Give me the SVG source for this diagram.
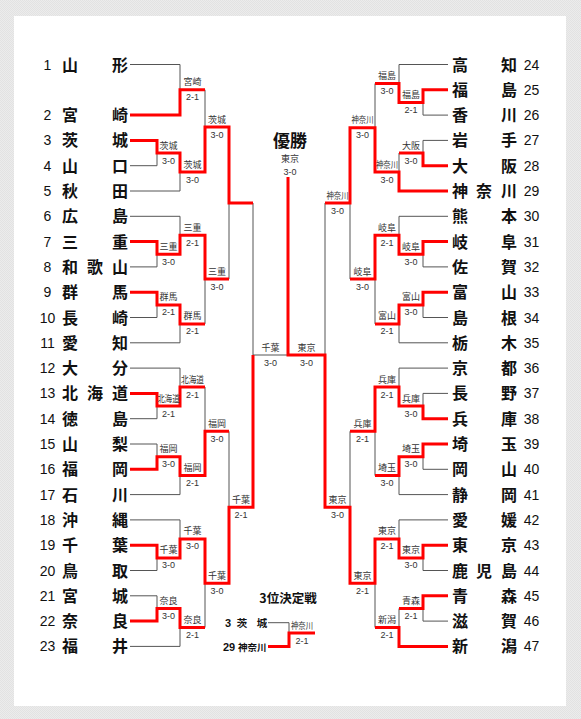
<svg xmlns="http://www.w3.org/2000/svg" width="581" height="719" viewBox="0 0 581 719">
<defs>
<pattern id="bg" width="2" height="2" patternUnits="userSpaceOnUse">
<rect width="2" height="2" fill="#ececec"/><rect width="1" height="1" fill="#e2e2e2"/><rect x="1" y="1" width="1" height="1" fill="#e2e2e2"/>
</pattern>
<style>
.nm{font-family:"Noto Sans CJK JP","Noto Sans CJK SC",sans-serif;font-weight:bold;font-size:16px;text-anchor:middle;fill:#111}
.no{font-family:"Liberation Sans",Arial,sans-serif;font-size:14px;text-anchor:middle;fill:#111}
.lb{font-family:"Noto Sans CJK JP","Noto Sans CJK SC",sans-serif;font-size:9px;text-anchor:middle;fill:#333}
.sc{font-family:"Liberation Sans",Arial,sans-serif;font-size:9px;text-anchor:middle;fill:#333}
.g{stroke:#555;stroke-width:1;fill:none}
.r{stroke:#ff0000;stroke-width:3;fill:none;stroke-linejoin:miter}
.tt{font-family:"Noto Sans CJK JP","Noto Sans CJK SC",sans-serif;font-weight:bold;fill:#111}
</style>
</defs>
<rect width="581" height="719" fill="url(#bg)"/>
<rect x="14" y="16" width="552" height="690" fill="#fff"/>

<g id="connectors">
<g id="gray-lines">
<path class="g" d="M130,64.5H180V89.8M205,89.8V127M130,165.7H157V153M130,191H180V172M229,279V203M253,203V355H288M130,216.3H180V235.3M130,266.9H157V254.3M130,317.5H157V304.9M130,342.8H180V323.9M205,323.9V279M130,368.1H180V387M130,418.7H157V406M205,387V431.3M130,444H157V456.7M130,494.6H180V475.6M229,431.3V507.3M130,519.9H180V538.9M130,570.5H157V557.9M130,595.8H157V608.5M130,646.4H180V627.5M205,627.5V583.2"/>
<path class="g" d="M448,64.5H399V83.5M448,115.1H423V102.5M448,140.4H423V153M399,153V172M375,83.5V127.8M350,279V203M325,203V355M448,216.3H399V235.3M448,266.9H423V254.3M448,317.5H423V304.9M448,342.8H399V323.9M375,323.9V279M448,368.1H399V387M448,393.4H423V406M448,469.3H423V456.7M448,494.6H399V475.6M375,475.6V431.3M350,431.3V507.3M448,519.9H399V538.9M448,570.5H423V557.9M448,621.1H423V608.5M399,608.5V627.5M375,627.5V583.2"/>
<path class="g" d="M268,622.7H289V633"/>
</g>
<g id="red-lines">
<path class="r" d="M130,115.1H180V89.8H205"/>
<path class="r" d="M130,140.4H157V153H180V172H205V127H229V203H253"/>
<path class="r" d="M130,241.6H157V254.3H180V235.3H205V279H229"/>
<path class="r" d="M130,292.2H157V304.9H180V323.9H205"/>
<path class="r" d="M130,393.4H157V406H180V387H205"/>
<path class="r" d="M130,469.3H157V456.7H180V475.6H205V431.3H229"/>
<path class="r" d="M130,545.2H157V557.9H180V538.9H205V583.2H229V507.3H253V355"/>
<path class="r" d="M130,621.1H157V608.5H180V627.5H205"/>
<path class="r" d="M448,89.8H423V102.5H399V83.5H375"/>
<path class="r" d="M448,165.7H423V153H399"/>
<path class="r" d="M448,191H399V172H375V127.8H350V203H325"/>
<path class="r" d="M448,241.6H423V254.3H399V235.3H375V279H350"/>
<path class="r" d="M448,292.2H423V304.9H399V323.9H375"/>
<path class="r" d="M448,418.7H423V406H399V387H375V431.3H350"/>
<path class="r" d="M448,444H423V456.7H399V475.6H375"/>
<path class="r" d="M448,545.2H423V557.9H399V538.9H375V583.2H350V507.3H325V355H288V177"/>
<path class="r" d="M448,595.8H423V608.5H399"/>
<path class="r" d="M448,646.4H399V627.5H375"/>
<path class="r" d="M268,646.5H289V633H315"/>
</g>
</g>

<g id="teams-left">
<g id="t1"><text class="no" x="47.5" y="69.5">1</text><text class="nm" x="70 120" y="70.5">山形</text></g>
<g id="t2"><text class="no" x="47.5" y="120.1">2</text><text class="nm" x="70 120" y="121.1">宮崎</text></g>
<g id="t3"><text class="no" x="47.5" y="145.4">3</text><text class="nm" x="70 120" y="146.4">茨城</text></g>
<g id="t4"><text class="no" x="47.5" y="170.7">4</text><text class="nm" x="70 120" y="171.7">山口</text></g>
<g id="t5"><text class="no" x="47.5" y="196">5</text><text class="nm" x="70 120" y="197">秋田</text></g>
<g id="t6"><text class="no" x="47.5" y="221.3">6</text><text class="nm" x="70 120" y="222.3">広島</text></g>
<g id="t7"><text class="no" x="47.5" y="246.6">7</text><text class="nm" x="70 120" y="247.6">三重</text></g>
<g id="t8"><text class="no" x="47.5" y="271.9">8</text><text class="nm" x="70 95 120" y="272.9">和歌山</text></g>
<g id="t9"><text class="no" x="47.5" y="297.2">9</text><text class="nm" x="70 120" y="298.2">群馬</text></g>
<g id="t10"><text class="no" x="47.5" y="322.5">10</text><text class="nm" x="70 120" y="323.5">長崎</text></g>
<g id="t11"><text class="no" x="47.5" y="347.8">11</text><text class="nm" x="70 120" y="348.8">愛知</text></g>
<g id="t12"><text class="no" x="47.5" y="373.1">12</text><text class="nm" x="70 120" y="374.1">大分</text></g>
<g id="t13"><text class="no" x="47.5" y="398.4">13</text><text class="nm" x="70 95 120" y="399.4">北海道</text></g>
<g id="t14"><text class="no" x="47.5" y="423.7">14</text><text class="nm" x="70 120" y="424.7">徳島</text></g>
<g id="t15"><text class="no" x="47.5" y="449">15</text><text class="nm" x="70 120" y="450">山梨</text></g>
<g id="t16"><text class="no" x="47.5" y="474.3">16</text><text class="nm" x="70 120" y="475.3">福岡</text></g>
<g id="t17"><text class="no" x="47.5" y="499.6">17</text><text class="nm" x="70 120" y="500.6">石川</text></g>
<g id="t18"><text class="no" x="47.5" y="524.9">18</text><text class="nm" x="70 120" y="525.9">沖縄</text></g>
<g id="t19"><text class="no" x="47.5" y="550.2">19</text><text class="nm" x="70 120" y="551.2">千葉</text></g>
<g id="t20"><text class="no" x="47.5" y="575.5">20</text><text class="nm" x="70 120" y="576.5">鳥取</text></g>
<g id="t21"><text class="no" x="47.5" y="600.8">21</text><text class="nm" x="70 120" y="601.8">宮城</text></g>
<g id="t22"><text class="no" x="47.5" y="626.1">22</text><text class="nm" x="70 120" y="627.1">奈良</text></g>
<g id="t23"><text class="no" x="47.5" y="651.4">23</text><text class="nm" x="70 120" y="652.4">福井</text></g>
</g>

<g id="teams-right">
<g id="t24"><text class="nm" x="460 509" y="70.5">高知</text><text class="no" x="531.5" y="69.5">24</text></g>
<g id="t25"><text class="nm" x="460 509" y="95.8">福島</text><text class="no" x="531.5" y="94.8">25</text></g>
<g id="t26"><text class="nm" x="460 509" y="121.1">香川</text><text class="no" x="531.5" y="120.1">26</text></g>
<g id="t27"><text class="nm" x="460 509" y="146.4">岩手</text><text class="no" x="531.5" y="145.4">27</text></g>
<g id="t28"><text class="nm" x="460 509" y="171.7">大阪</text><text class="no" x="531.5" y="170.7">28</text></g>
<g id="t29"><text class="nm" x="460 484 509" y="197">神奈川</text><text class="no" x="531.5" y="196">29</text></g>
<g id="t30"><text class="nm" x="460 509" y="222.3">熊本</text><text class="no" x="531.5" y="221.3">30</text></g>
<g id="t31"><text class="nm" x="460 509" y="247.6">岐阜</text><text class="no" x="531.5" y="246.6">31</text></g>
<g id="t32"><text class="nm" x="460 509" y="272.9">佐賀</text><text class="no" x="531.5" y="271.9">32</text></g>
<g id="t33"><text class="nm" x="460 509" y="298.2">富山</text><text class="no" x="531.5" y="297.2">33</text></g>
<g id="t34"><text class="nm" x="460 509" y="323.5">島根</text><text class="no" x="531.5" y="322.5">34</text></g>
<g id="t35"><text class="nm" x="460 509" y="348.8">栃木</text><text class="no" x="531.5" y="347.8">35</text></g>
<g id="t36"><text class="nm" x="460 509" y="374.1">京都</text><text class="no" x="531.5" y="373.1">36</text></g>
<g id="t37"><text class="nm" x="460 509" y="399.4">長野</text><text class="no" x="531.5" y="398.4">37</text></g>
<g id="t38"><text class="nm" x="460 509" y="424.7">兵庫</text><text class="no" x="531.5" y="423.7">38</text></g>
<g id="t39"><text class="nm" x="460 509" y="450">埼玉</text><text class="no" x="531.5" y="449">39</text></g>
<g id="t40"><text class="nm" x="460 509" y="475.3">岡山</text><text class="no" x="531.5" y="474.3">40</text></g>
<g id="t41"><text class="nm" x="460 509" y="500.6">静岡</text><text class="no" x="531.5" y="499.6">41</text></g>
<g id="t42"><text class="nm" x="460 509" y="525.9">愛媛</text><text class="no" x="531.5" y="524.9">42</text></g>
<g id="t43"><text class="nm" x="460 509" y="551.2">東京</text><text class="no" x="531.5" y="550.2">43</text></g>
<g id="t44"><text class="nm" x="460 484 509" y="576.5">鹿児島</text><text class="no" x="531.5" y="575.5">44</text></g>
<g id="t45"><text class="nm" x="460 509" y="601.8">青森</text><text class="no" x="531.5" y="600.8">45</text></g>
<g id="t46"><text class="nm" x="460 509" y="627.1">滋賀</text><text class="no" x="531.5" y="626.1">46</text></g>
<g id="t47"><text class="nm" x="460 509" y="652.4">新潟</text><text class="no" x="531.5" y="651.4">47</text></g>
</g>

<g id="results-left">
<g id="m-l1"><text class="lb" x="192.5" y="85.3">宮崎</text><text class="sc" x="192.5" y="100.3">2-1</text></g>
<g id="m-l2"><text class="lb" x="168.5" y="148.5">茨城</text><text class="sc" x="168.5" y="163.5">3-0</text></g>
<g id="m-l3"><text class="lb" x="192.5" y="167.5">茨城</text><text class="sc" x="192.5" y="182.5">3-0</text></g>
<g id="m-l4"><text class="lb" x="217" y="122.5">茨城</text><text class="sc" x="217" y="137.5">3-0</text></g>
<g id="m-l5"><text class="lb" x="168.5" y="249.8">三重</text><text class="sc" x="168.5" y="264.8">3-0</text></g>
<g id="m-l6"><text class="lb" x="192.5" y="230.8">三重</text><text class="sc" x="192.5" y="245.8">2-1</text></g>
<g id="m-l7"><text class="lb" x="217" y="274.5">三重</text><text class="sc" x="217" y="289.5">3-0</text></g>
<g id="m-l8"><text class="lb" x="168.5" y="300.4">群馬</text><text class="sc" x="168.5" y="315.4">2-1</text></g>
<g id="m-l9"><text class="lb" x="192.5" y="319.4">群馬</text><text class="sc" x="192.5" y="334.4">2-1</text></g>
<g id="m-l10"><text class="lb" x="168.5" y="401.5" textLength="22" lengthAdjust="spacingAndGlyphs">北海道</text><text class="sc" x="168.5" y="416.5">2-1</text></g>
<g id="m-l11"><text class="lb" x="192.5" y="382.5" textLength="23" lengthAdjust="spacingAndGlyphs">北海道</text><text class="sc" x="192.5" y="397.5">2-1</text></g>
<g id="m-l12"><text class="lb" x="168.5" y="452.2">福岡</text><text class="sc" x="168.5" y="467.2">3-0</text></g>
<g id="m-l13"><text class="lb" x="192.5" y="471.1">福岡</text><text class="sc" x="192.5" y="486.1">2-1</text></g>
<g id="m-l14"><text class="lb" x="217" y="426.8">福岡</text><text class="sc" x="217" y="441.8">3-0</text></g>
<g id="m-l15"><text class="lb" x="241" y="502.8">千葉</text><text class="sc" x="241" y="517.8">2-1</text></g>
<g id="m-l16"><text class="lb" x="168.5" y="553.4">千葉</text><text class="sc" x="168.5" y="568.4">3-0</text></g>
<g id="m-l17"><text class="lb" x="192.5" y="534.4">千葉</text><text class="sc" x="192.5" y="549.4">3-0</text></g>
<g id="m-l18"><text class="lb" x="217" y="578.7">千葉</text><text class="sc" x="217" y="593.7">3-0</text></g>
<g id="m-l19"><text class="lb" x="168.5" y="604">奈良</text><text class="sc" x="168.5" y="619">3-0</text></g>
<g id="m-l20"><text class="lb" x="192.5" y="623">奈良</text><text class="sc" x="192.5" y="638">2-1</text></g>
</g>

<g id="results-right">
<g id="m-r1"><text class="lb" x="411" y="98">福島</text><text class="sc" x="411" y="113">2-1</text></g>
<g id="m-r2"><text class="lb" x="387" y="79">福島</text><text class="sc" x="387" y="94">3-0</text></g>
<g id="m-r3"><text class="lb" x="411" y="148.5">大阪</text><text class="sc" x="411" y="163.5">3-0</text></g>
<g id="m-r4"><text class="lb" x="387" y="167.5" textLength="22" lengthAdjust="spacingAndGlyphs">神奈川</text><text class="sc" x="387" y="182.5">3-0</text></g>
<g id="m-r5"><text class="lb" x="362.5" y="123.3" textLength="22" lengthAdjust="spacingAndGlyphs">神奈川</text><text class="sc" x="362.5" y="138.3">3-0</text></g>
<g id="m-r6"><text class="lb" x="337.5" y="198.5" textLength="22" lengthAdjust="spacingAndGlyphs">神奈川</text><text class="sc" x="337.5" y="213.5">3-0</text></g>
<g id="m-r7"><text class="lb" x="411" y="249.8">岐阜</text><text class="sc" x="411" y="264.8">3-0</text></g>
<g id="m-r8"><text class="lb" x="387" y="230.8">岐阜</text><text class="sc" x="387" y="245.8">2-1</text></g>
<g id="m-r9"><text class="lb" x="362.5" y="274.5">岐阜</text><text class="sc" x="362.5" y="289.5">3-0</text></g>
<g id="m-r10"><text class="lb" x="411" y="300.4">富山</text><text class="sc" x="411" y="315.4">3-0</text></g>
<g id="m-r11"><text class="lb" x="387" y="319.4">富山</text><text class="sc" x="387" y="334.4">2-1</text></g>
<g id="m-r12"><text class="lb" x="411" y="401.5">兵庫</text><text class="sc" x="411" y="416.5">3-0</text></g>
<g id="m-r13"><text class="lb" x="387" y="382.5">兵庫</text><text class="sc" x="387" y="397.5">2-1</text></g>
<g id="m-r14"><text class="lb" x="362.5" y="426.8">兵庫</text><text class="sc" x="362.5" y="441.8">2-1</text></g>
<g id="m-r15"><text class="lb" x="411" y="452.2">埼玉</text><text class="sc" x="411" y="467.2">3-0</text></g>
<g id="m-r16"><text class="lb" x="387" y="471.1">埼玉</text><text class="sc" x="387" y="486.1">3-0</text></g>
<g id="m-r17"><text class="lb" x="337.5" y="502.8">東京</text><text class="sc" x="337.5" y="517.8">3-0</text></g>
<g id="m-r18"><text class="lb" x="411" y="553.4">東京</text><text class="sc" x="411" y="568.4">3-0</text></g>
<g id="m-r19"><text class="lb" x="387" y="534.4">東京</text><text class="sc" x="387" y="549.4">2-1</text></g>
<g id="m-r20"><text class="lb" x="362.5" y="578.7">東京</text><text class="sc" x="362.5" y="593.7">2-1</text></g>
<g id="m-r21"><text class="lb" x="411" y="604">青森</text><text class="sc" x="411" y="619">2-1</text></g>
<g id="m-r22"><text class="lb" x="387" y="623">新潟</text><text class="sc" x="387" y="638">2-1</text></g>
</g>

<g id="final">
<text class="tt" x="290" y="146.5" font-size="17" text-anchor="middle">優勝</text>
<text class="lb" x="290" y="162">東京</text><text class="sc" x="290" y="175">3-0</text>
<g id="semi-left"><text class="lb" x="270.5" y="350.5">千葉</text><text class="sc" x="270.5" y="365.5">3-0</text></g>
<g id="semi-right"><text class="lb" x="306.5" y="350.5">東京</text><text class="sc" x="306.5" y="365.5">3-0</text></g>
</g>

<g id="third-place">
<text class="tt" x="288" y="602.5" font-size="12.5" text-anchor="middle">3位決定戦</text>
<text x="228" y="626.5" font-family="Liberation Sans, Arial, sans-serif" font-weight="bold" font-size="11" text-anchor="middle" fill="#111">3</text>
<text class="tt" x="242 262" y="626.5" font-size="10.5" text-anchor="middle">茨城</text>
<text x="229" y="650.5" font-family="Liberation Sans, Arial, sans-serif" font-weight="bold" font-size="11" text-anchor="middle" fill="#111">29</text>
<text class="tt" x="238" y="650.5" font-size="9.5">神奈川</text>
<g id="m-third"><text class="lb" x="302" y="628.5" textLength="22" lengthAdjust="spacingAndGlyphs">神奈川</text><text class="sc" x="302" y="643.5">2-1</text></g>
</g>
</svg>
